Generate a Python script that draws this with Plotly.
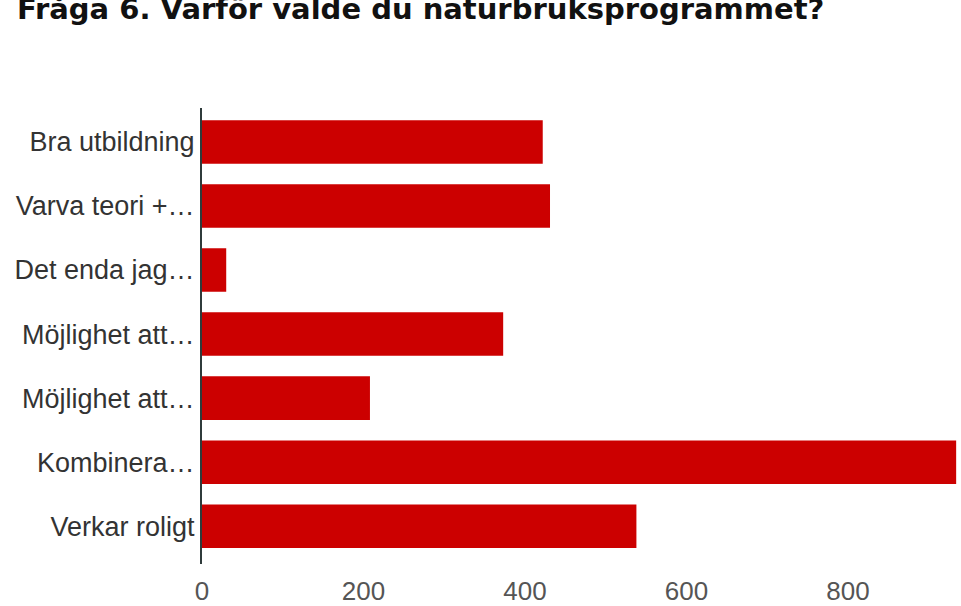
import plotly.graph_objects as go

title = "Fråga 6. Varför valde du naturbruksprogrammet?"
labels = ["Bra utbildning", "Varva teori +…", "Det enda jag…", "Möjlighet att…",
          "Möjlighet att…", "Kombinera…", "Verkar roligt"]
values = [422, 431, 30, 373, 208, 934, 538]
xticks = [0, 200, 400, 600, 800]

pos = list(range(len(labels)))

fig = go.Figure(go.Bar(
    x=values, y=pos, orientation="h",
    marker=dict(color="#cc0000", line=dict(width=0)),
    width=0.68,
))

fig.update_layout(
    width=961, height=606,
    margin=dict(l=202, r=0, t=108, b=40),
    paper_bgcolor="white", plot_bgcolor="white",
    showlegend=False,
    font=dict(family="Liberation Sans, Arial, sans-serif"),
)
fig.update_yaxes(
    tickmode="array", tickvals=pos, ticktext=labels,
    range=[6.59, -0.53],
    showline=True, linecolor="#2f3b3b", linewidth=2,
    showgrid=False, zeroline=False,
    ticks="",
    tickfont=dict(size=27, color="#333333"),
)
fig.update_xaxes(
    range=[0, 940], tickvals=xticks,
    showgrid=False, zeroline=False, showline=False,
    ticks="outside", ticklen=4, tickcolor="rgba(0,0,0,0)",
    tickfont=dict(size=26, color="#555555"),
)
fig.add_annotation(
    text="<b>" + title + "</b>", xref="paper", yref="paper",
    x=-202/759, y=1 + (108 - 9) / 458, xanchor="left", yanchor="middle",
    xshift=15, showarrow=False,
    font=dict(size=29, color="#111111", family="DejaVu Sans, sans-serif"),
)
fig.write_html("out.html", config={"displayModeBar": False},
               post_script="document.body.style.margin='0';")
